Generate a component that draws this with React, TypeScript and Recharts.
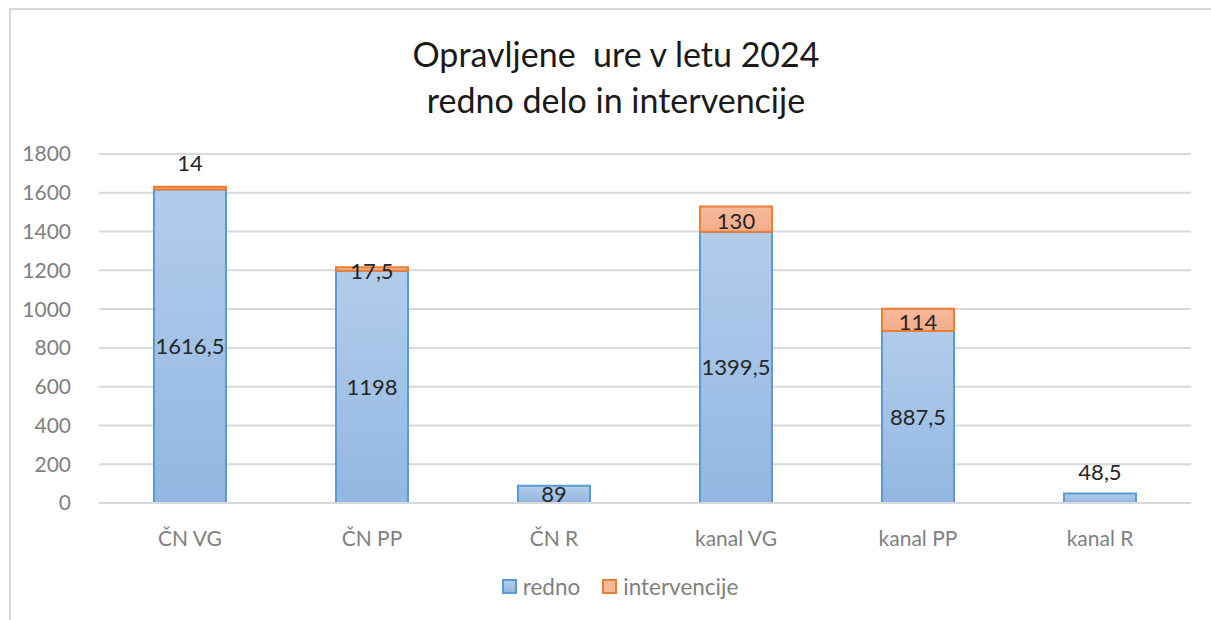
import React from "react";
import {
  BarChart,
  Bar,
  XAxis,
  YAxis,
  CartesianGrid,
  LabelList,
} from "recharts";

const categories = ["ČN VG", "ČN PP", "ČN R", "kanal VG", "kanal PP", "kanal R"];
const redno = [1616.5, 1198, 89, 1399.5, 887.5, 48.5];
const intervencije = [14, 17.5, 0, 130, 114, 0];
const yTicks = [0, 200, 400, 600, 800, 1000, 1200, 1400, 1600, 1800];

const data = categories.map((name, i) => ({
  name,
  redno: redno[i],
  intervencije: intervencije[i] || null,
}));

const FONT = "Lato, 'Open Sans', sans-serif";
const GRID = "#d9d9d9";
const TICK = "#7f7f7f";
const LABEL = "#262626";

const fmt = (v: number) => String(v).replace(".", ",");

// categories where the orange label sits above the bar (Excel moved it there)
const intervAbove = ["ČN VG"];

function RednoLabel(props: any) {
  const { x, y, width, height, value } = props;
  if (value == null) return null;
  const cx = x + width / 2;
  const cy = height < 12 ? y - 21 : y + height / 2;
  return (
    <text x={cx} y={cy} dy="0.35em" textAnchor="middle" fill={LABEL} fontSize={22} fontFamily={FONT}>
      {fmt(value)}
    </text>
  );
}

function IntervLabel(props: any) {
  const { x, y, width, height, value, index } = props;
  if (value == null) return null;
  const cx = x + width / 2;
  const cy = intervAbove.includes(categories[index]) ? y - 24 : y + height / 2 + 2;
  return (
    <text x={cx} y={cy} dy="0.35em" textAnchor="middle" fill={LABEL} fontSize={22} fontFamily={FONT}>
      {fmt(value)}
    </text>
  );
}

export default function App() {
  return (
    <div style={{ position: "relative", width: 1211, height: 620, background: "#fff", overflow: "hidden", fontFamily: FONT }}>
      <style>{"body{margin:0;overflow:hidden}"}</style>
      <div
        style={{
          position: "absolute",
          left: 9,
          top: 8,
          width: 1300,
          height: 700,
          borderLeft: `2px solid ${GRID}`,
          borderTop: `2px solid ${GRID}`,
        }}
      />
      <div
        style={{
          position: "absolute",
          left: 0,
          top: 31,
          width: 1232,
          textAlign: "center",
          fontSize: 34,
          lineHeight: "46px",
          color: "#1a1a1a",
          whiteSpace: "pre",
        }}
      >
        {"Opravljene  ure v letu 2024\nredno delo in intervencije"}
      </div>
      <BarChart
        width={1211}
        height={620}
        data={data}
        margin={{ top: 154, right: 20, bottom: 77, left: 0 }}
        barSize={72}
        style={{ position: "absolute", left: 0, top: 0 }}
      >
        <defs>
          <linearGradient id="gRedno" x1="0" y1="0" x2="0" y2="1">
            <stop offset="0%" stopColor="#b2cdeb" />
            <stop offset="100%" stopColor="#92b7e2" />
          </linearGradient>
          <linearGradient id="gInterv" x1="0" y1="0" x2="0" y2="1">
            <stop offset="0%" stopColor="#f7b89b" />
            <stop offset="100%" stopColor="#f4ad8b" />
          </linearGradient>
        </defs>
        <CartesianGrid vertical={false} stroke={GRID} strokeWidth={2} />
        <XAxis
          dataKey="name"
          axisLine={{ stroke: GRID, strokeWidth: 2 }}
          tickLine={false}
          tickMargin={22}
          tick={{ fill: TICK, fontSize: 21, fontFamily: FONT }}
          height={40}
        />
        <YAxis
          domain={[0, 1800]}
          ticks={yTicks}
          interval={0}
          width={99}
          axisLine={false}
          tickLine={false}
          tickMargin={22}
          tick={{ fill: TICK, fontSize: 21, fontFamily: FONT }}
        />
        <Bar dataKey="redno" stackId="a" fill="url(#gRedno)" stroke="#5b9bd5" strokeWidth={2} isAnimationActive={false}>
          <LabelList dataKey="redno" content={RednoLabel} />
        </Bar>
        <Bar dataKey="intervencije" stackId="a" fill="url(#gInterv)" stroke="#ed7d31" strokeWidth={2} isAnimationActive={false}>
          <LabelList dataKey="intervencije" content={IntervLabel} />
        </Bar>
      </BarChart>
      <div
        style={{
          position: "absolute",
          left: 0,
          top: 573,
          width: 1240,
          display: "flex",
          justifyContent: "center",
          alignItems: "center",
          fontSize: 22.5,
          color: TICK,
          gap: 22,
        }}
      >
        <span style={{ display: "flex", alignItems: "center", gap: 6 }}>
          <span style={{ width: 11, height: 11, background: "linear-gradient(#b2cdeb,#92b7e2)", border: "2px solid #5b9bd5" }} />
          redno
        </span>
        <span style={{ display: "flex", alignItems: "center", gap: 6 }}>
          <span style={{ width: 11, height: 11, background: "#f7b89b", border: "2px solid #ed7d31" }} />
          intervencije
        </span>
      </div>
    </div>
  );
}
